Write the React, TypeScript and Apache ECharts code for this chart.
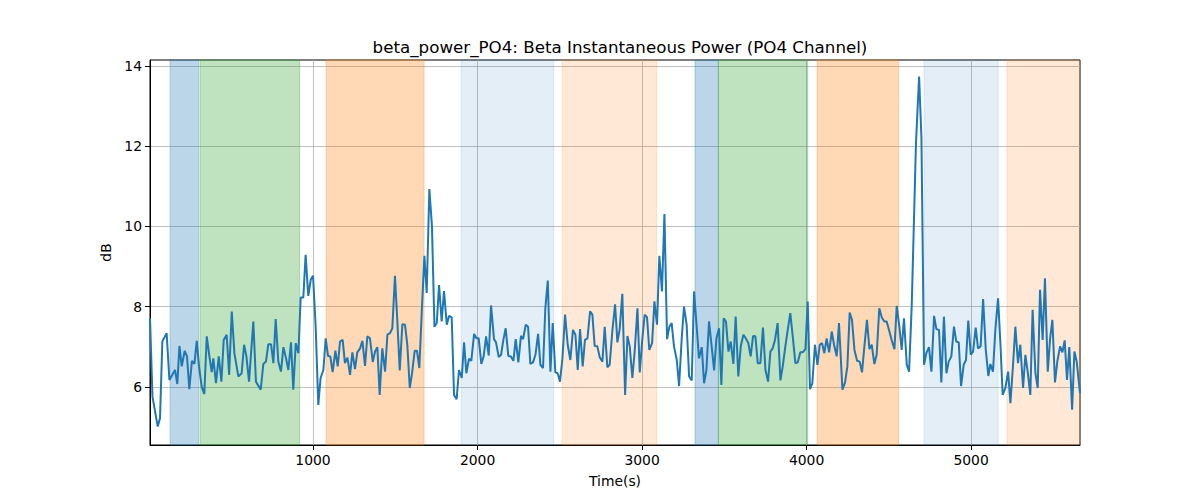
import React, { useEffect, useRef } from "react";
import * as echarts from "echarts";

const titleText = "beta_power_PO4: Beta Instantaneous Power (PO4 Channel)";
const xName = "Time(s)";
const yName = "dB";

const xTicks = [1000, 2000, 3000, 4000, 5000];
const yTicks = [6, 8, 10, 12, 14];
const xMin = 9;
const xMax = 5662;
const yMin = 4.55;
const yMax = 14.15;

const times = [
  9, 24, 56, 70, 84, 110, 127, 145, 161, 175, 188, 202, 220, 234, 248, 264, 279, 293, 307, 323,
  339, 354, 370, 384, 394, 410, 427, 443, 457, 475, 490, 506, 522, 546, 566, 581, 595, 611, 637, 653,
  682, 698, 714, 728, 745, 759, 773, 789, 805, 820, 836, 850, 866, 880, 895, 911, 925, 941, 955, 971,
  986, 1000, 1016, 1032, 1046, 1063, 1077, 1091, 1105, 1119, 1136, 1150, 1164, 1180, 1194, 1209, 1225, 1239, 1255, 1269,
  1286, 1300, 1316, 1330, 1346, 1363, 1377, 1391, 1405, 1421, 1438, 1452, 1468, 1482, 1498, 1513, 1527, 1543, 1559, 1573,
  1588, 1602, 1618, 1632, 1646, 1661, 1677, 1691, 1707, 1723, 1738, 1752, 1766, 1782, 1796, 1813, 1827, 1843, 1857, 1873,
  1887, 1904, 1918, 1932, 1948, 1962, 1979, 1993, 2007, 2023, 2037, 2052, 2068, 2082, 2100, 2112, 2129, 2143, 2157, 2171,
  2187, 2202, 2218, 2232, 2248, 2264, 2277, 2293, 2307, 2321, 2337, 2352, 2368, 2382, 2398, 2412, 2427, 2443, 2457, 2473,
  2487, 2501, 2516, 2532, 2548, 2564, 2580, 2595, 2609, 2623, 2639, 2653, 2668, 2684, 2698, 2712, 2728, 2743, 2759, 2773,
  2789, 2803, 2820, 2836, 2850, 2864, 2880, 2897, 2911, 2925, 2941, 2955, 2972, 2986, 3002, 3016, 3030, 3044, 3061, 3075,
  3091, 3105, 3121, 3136, 3152, 3166, 3180, 3194, 3211, 3225, 3241, 3255, 3271, 3286, 3302, 3316, 3332, 3346, 3363, 3377,
  3391, 3407, 3423, 3438, 3452, 3468, 3482, 3496, 3510, 3525, 3539, 3555, 3569, 3585, 3600, 3616, 3630, 3646, 3660, 3675,
  3689, 3703, 3719, 3735, 3750, 3766, 3780, 3794, 3808, 3824, 3841, 3855, 3871, 3887, 3901, 3918, 3932, 3946, 3962, 3976,
  3993, 4007, 4021, 4035, 4051, 4066, 4080, 4094, 4108, 4122, 4137, 4153, 4167, 4183, 4197, 4218, 4234, 4248, 4262, 4276,
  4291, 4307, 4323, 4337, 4351, 4367, 4382, 4396, 4412, 4426, 4442, 4457, 4473, 4487, 4501, 4517, 4534, 4548, 4564, 4578,
  4592, 4609, 4623, 4639, 4665, 4684, 4698, 4714, 4728, 4744, 4759, 4775, 4789, 4805, 4819, 4835, 4850, 4864, 4880, 4896,
  4910, 4925, 4939, 4955, 4969, 4983, 4998, 5012, 5028, 5042, 5058, 5073, 5089, 5105, 5117, 5133, 5148, 5164, 5178, 5192,
  5208, 5225, 5239, 5255, 5269, 5285, 5299, 5316, 5330, 5344, 5360, 5374, 5391, 5405, 5419, 5435, 5449, 5466, 5480, 5494,
  5510, 5524, 5541, 5555, 5569, 5583, 5597, 5614, 5628, 5642, 5662,
];

const powerDb = [
  7.71, 5.76, 5.01, 5.22, 7.13, 7.34, 6.17, 6.3, 6.42, 6.07, 7.02, 6.51, 6.9, 6.76, 5.94, 6.65, 6.57, 7.15, 6.51, 6.01,
  5.82, 7.26, 6.76, 6.37, 6.71, 6.09, 6.76, 6.13, 7.17, 7.3, 6.3, 7.88, 6.84, 6.26, 6.34, 7.05, 6.76, 6.13, 7.63, 6.13,
  5.93, 6.57, 6.63, 7.06, 7.06, 6.59, 7.69, 6.63, 6.38, 6.99, 6.71, 6.42, 7.11, 5.93, 7.09, 6.84, 8.23, 8.23, 9.29, 8.27,
  8.67, 8.77, 7.5, 5.55, 6.22, 6.42, 7.21, 6.77, 6.76, 6.37, 6.9, 6.51, 7.13, 7.17, 6.59, 6.73, 6.3, 6.86, 6.44, 6.86,
  6.96, 7.15, 6.52, 7.26, 7.21, 6.62, 6.88, 6.99, 5.8, 6.96, 6.38, 7.3, 7.34, 7.46, 8.77, 7.59, 6.41, 7.56, 7.55, 7.05,
  5.97, 6.34, 6.9, 6.9, 6.47, 7.88, 9.27, 8.34, 10.93, 10.0, 7.5, 7.59, 8.54, 7.63, 8.39, 7.55, 7.77, 7.73, 5.8, 5.69,
  6.42, 6.22, 7.11, 6.34, 6.7, 6.65, 7.32, 7.21, 7.21, 6.57, 6.76, 7.26, 6.78, 8.03, 7.19, 7.11, 6.74, 6.8, 7.17, 7.46,
  6.77, 6.76, 6.65, 7.19, 6.61, 7.27, 7.19, 7.55, 7.5, 6.57, 6.61, 6.8, 7.32, 6.55, 6.47, 7.96, 8.65, 6.38, 7.59, 6.36,
  6.34, 6.13, 6.71, 7.8, 7.05, 6.67, 7.42, 7.3, 6.42, 7.44, 6.51, 7.17, 7.21, 7.88, 7.8, 7.02, 7.01, 6.73, 6.63, 7.5,
  6.49, 6.55, 7.42, 8.06, 7.11, 7.44, 8.32, 5.8, 7.27, 7.01, 6.22, 6.88, 7.96, 6.36, 7.21, 7.8, 7.74, 6.92, 7.09, 8.13,
  7.55, 9.27, 8.38, 10.31, 7.19, 7.5, 7.59, 7.01, 6.67, 6.02, 7.21, 8.0, 7.55, 6.26, 6.16, 8.38, 7.5, 6.71, 6.99, 6.09,
  6.41, 7.63, 7.01, 6.41, 7.21, 7.46, 6.05, 7.71, 7.63, 6.88, 7.13, 6.57, 7.75, 6.26, 7.01, 7.3, 7.21, 7.09, 6.76, 7.27,
  7.26, 6.59, 6.59, 7.48, 6.42, 6.13, 6.88, 6.96, 7.17, 7.59, 6.16, 6.51, 7.01, 7.46, 7.84, 7.17, 6.59, 6.61, 6.86, 6.86,
  6.94, 8.13, 5.94, 6.09, 7.05, 6.55, 7.05, 7.09, 6.84, 7.21, 6.86, 7.38, 7.05, 6.76, 7.59, 5.93, 6.11, 6.51, 7.85, 7.67,
  6.92, 6.65, 6.63, 6.36, 6.99, 7.67, 6.94, 7.05, 6.57, 6.8, 7.96, 7.73, 7.63, 7.63, 7.42, 7.17, 6.94, 8.02, 7.5, 6.92,
  7.71, 6.55, 6.38, 8.0, 12.08, 13.74, 12.24, 6.55, 6.84, 6.99, 6.38, 7.77, 7.44, 7.42, 6.11, 7.75, 6.34, 6.63, 6.76, 7.5,
  7.13, 7.11, 6.02, 6.55, 6.67, 7.65, 6.8, 6.88, 7.48, 6.96, 7.01, 8.19, 6.94, 6.27, 6.57, 6.38, 7.46, 8.21, 7.09, 5.8,
  5.97, 6.38, 5.59, 6.55, 7.5, 6.59, 7.05, 5.97, 6.8, 6.38, 5.8, 7.92, 6.34, 5.97, 8.42, 7.17, 8.71, 6.38, 7.19, 7.67,
  6.11, 6.63, 7.01, 6.86, 7.16, 6.17, 6.99, 5.43, 6.88, 6.63, 5.84,
];

const bandStart = [131, 313, 1079, 1900, 2514, 3322, 3464, 4064, 4714, 5218];
const bandEnd = [305, 919, 1675, 2463, 3089, 3464, 4007, 4560, 5164, 5662];
const bandColor = [
  "rgba(31,119,180,0.3)",
  "rgba(44,160,44,0.3)",
  "rgba(255,127,14,0.3)",
  "rgba(31,119,180,0.12)",
  "rgba(255,127,14,0.17)",
  "rgba(31,119,180,0.3)",
  "rgba(44,160,44,0.3)",
  "rgba(255,127,14,0.3)",
  "rgba(31,119,180,0.12)",
  "rgba(255,127,14,0.17)",
];

const FONT = "DejaVu Sans";

export default function App() {
  const ref = useRef<HTMLDivElement>(null);
  useEffect(() => {
    if (!ref.current) return;
    const chart = echarts.init(ref.current, null, { renderer: "svg" });
    const lineData = times.map((t, i) => [t, powerDb[i]]);
    const areas = bandStart.map((s, i) => [
      { xAxis: s, itemStyle: { color: bandColor[i], borderColor: bandColor[i], borderWidth: 1 } },
      { xAxis: bandEnd[i] },
    ]);
    chart.setOption({
      animation: false,
      backgroundColor: "#ffffff",
      title: {
        text: titleText,
        left: 615,
        top: 33,
        textAlign: "center",
        textStyle: { fontFamily: FONT, fontSize: 16.7, fontWeight: "normal", color: "#000" },
      },
      grid: {
        left: 150,
        right: 120,
        top: 60,
        bottom: 55,
        show: true,
        borderColor: "#000",
        borderWidth: 1,
        backgroundColor: "transparent",
      },
      xAxis: {
        type: "value",
        min: xMin,
        max: xMax,
        name: xName,
        nameLocation: "middle",
        nameGap: 29,
        nameTextStyle: { fontFamily: FONT, fontSize: 13.9, color: "#000" },
        axisLine: { show: true, onZero: false, lineStyle: { color: "#000", width: 1 } },
        axisTick: { show: true, length: 5, customValues: xTicks, lineStyle: { color: "#000", width: 1 } },
        axisLabel: {
          customValues: xTicks,
          formatter: (v: number) => String(v),
          fontFamily: FONT,
          fontSize: 13.9,
          color: "#000",
          margin: 8,
        },
        splitLine: { show: true, lineStyle: { color: "#b0b0b0", width: 0.8 } },
      },
      yAxis: {
        type: "value",
        min: yMin,
        max: yMax,
        name: yName,
        nameLocation: "middle",
        nameGap: 31,
        nameRotate: 90,
        nameTextStyle: { fontFamily: FONT, fontSize: 13.9, color: "#000" },
        axisLine: { show: true, onZero: false, lineStyle: { color: "#000", width: 1 } },
        axisTick: { show: true, length: 5, customValues: yTicks, lineStyle: { color: "#000", width: 1 } },
        axisLabel: {
          customValues: yTicks,
          formatter: (v: number) => String(v),
          fontFamily: FONT,
          fontSize: 13.9,
          color: "#000",
          margin: 8,
        },
        splitLine: { show: true, lineStyle: { color: "#b0b0b0", width: 0.8 } },
      },
      series: [
        {
          type: "line",
          data: lineData,
          symbol: "none",
          lineStyle: { color: "#1f77b4", width: 2 },
          itemStyle: { color: "#1f77b4" },
          markArea: { silent: true, data: areas },
          z: 3,
        },
      ],
    });
    return () => chart.dispose();
  }, []);
  return (
    <div
      ref={ref}
      style={{ position: "fixed", left: 0, top: 0, width: 1200, height: 500, background: "#fff" }}
    />
  );
}
